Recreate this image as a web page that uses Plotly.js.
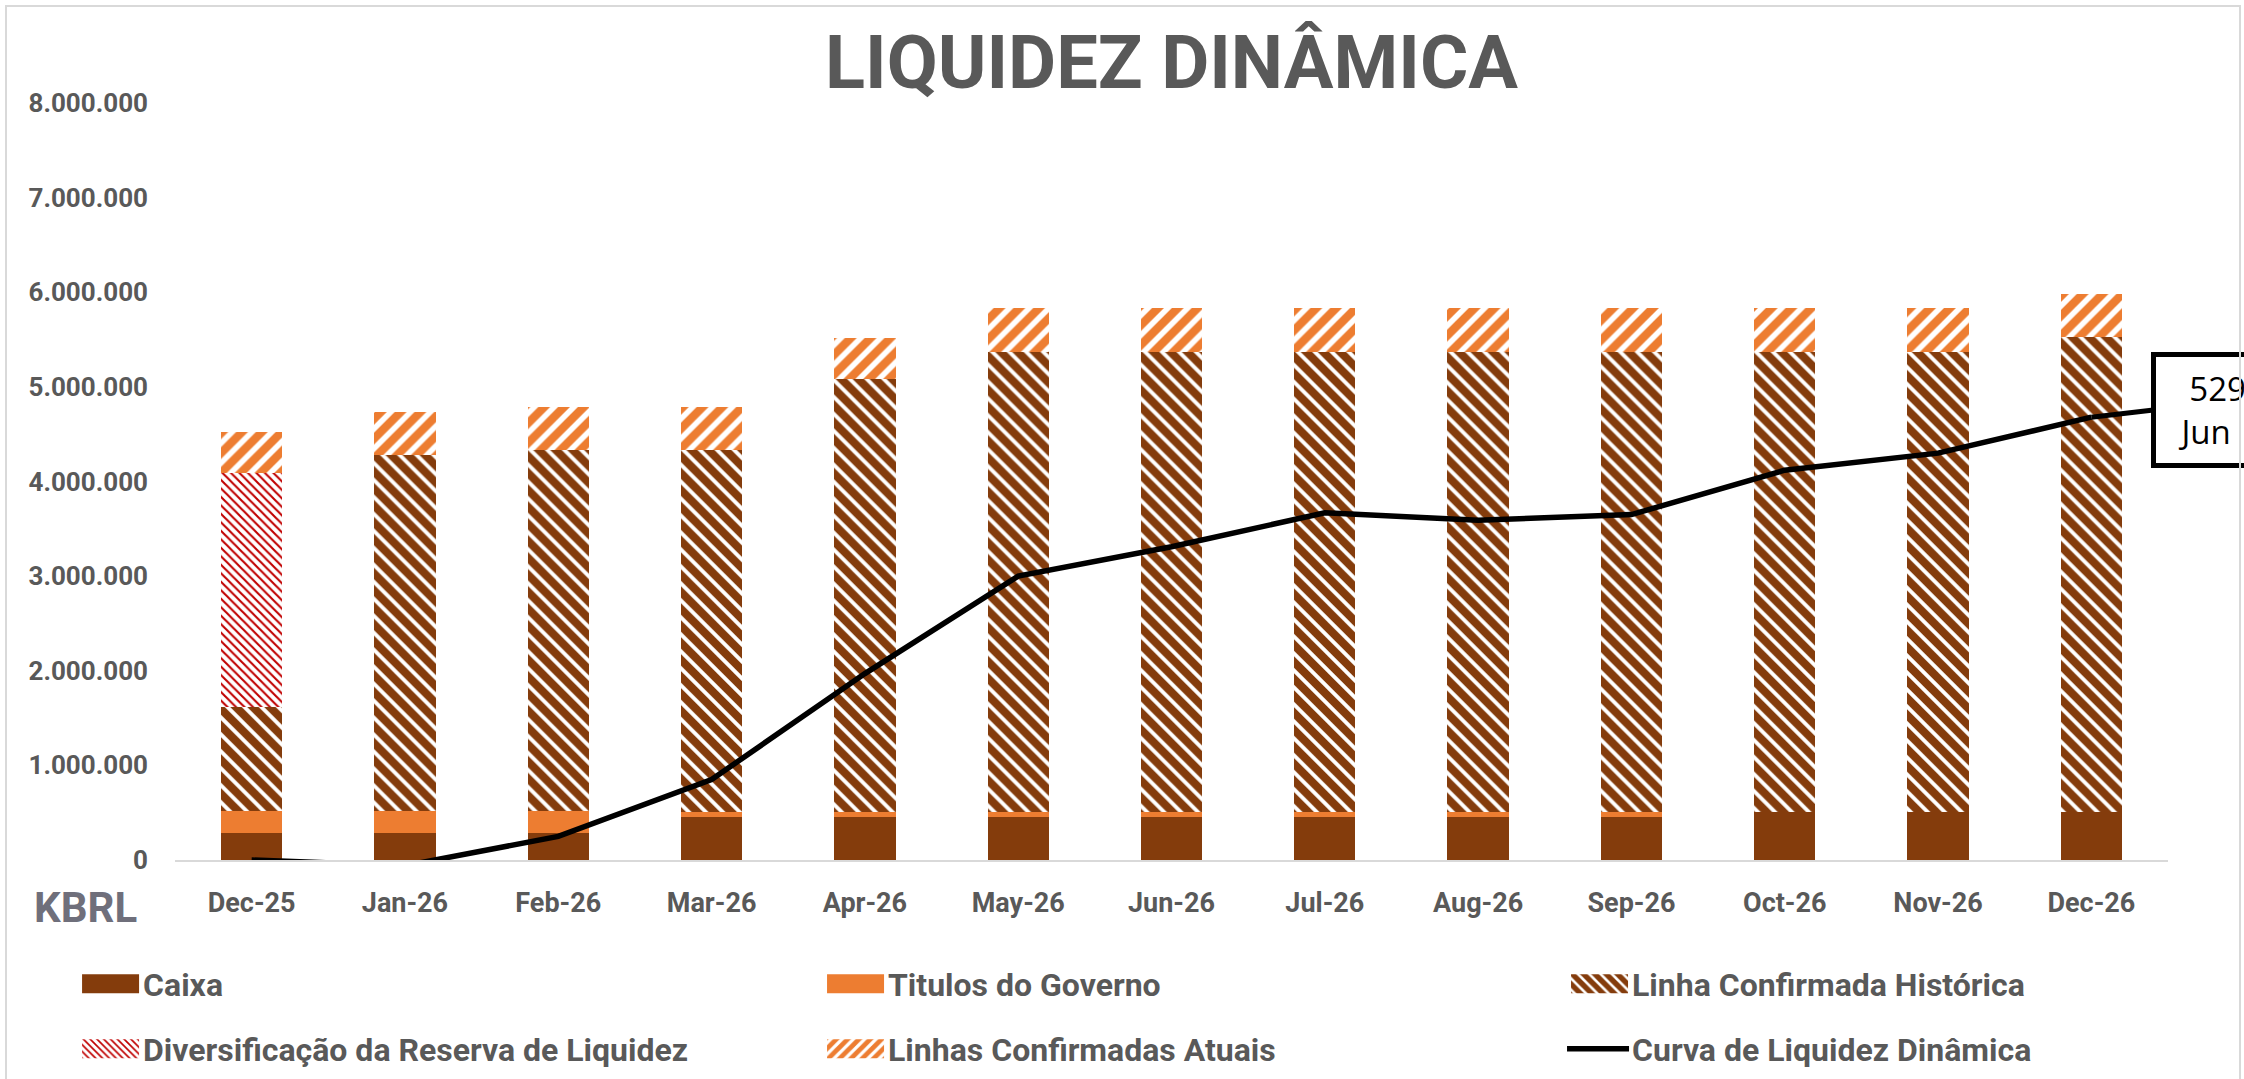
<!DOCTYPE html>
<html>
<head>
<meta charset="utf-8">
<script src="https://cdn.plot.ly/plotly-3.0.1.min.js"></script>
<style>
html,body{margin:0;padding:0;width:2244px;height:1079px;overflow:hidden;background:#fff}
#chart{position:absolute;left:0;top:0;width:2244px;height:1079px}
#frame{position:absolute;left:5px;top:5px;width:2232px;height:1200px;border:2px solid #d9d9d9;pointer-events:none}
</style>
</head>
<body>
<div id="chart"></div>
<div id="frame"></div>
<script>
// ---- data ----
const categories = ['Dec-25','Jan-26','Feb-26','Mar-26','Apr-26','May-26','Jun-26','Jul-26','Aug-26','Sep-26','Oct-26','Nov-26','Dec-26'];
const caixa      = [285000, 285000, 285000, 455000, 455000, 455000, 455000, 455000, 455000, 455000, 510000, 510000, 510000];
const titulos    = [235000, 235000, 235000, 55000, 55000, 55000, 55000, 55000, 55000, 55000, 0, 0, 0];
const linhaHist  = [1100000, 3760000, 3810000, 3820000, 4570000, 4860000, 4860000, 4860000, 4860000, 4860000, 4860000, 4860000, 5020000];
const diversif   = [2470000, 0, 0, 0, 0, 0, 0, 0, 0, 0, 0, 0, 0];
const linhasAtuais = [430000, 450000, 460000, 460000, 440000, 460000, 460000, 460000, 460000, 460000, 460000, 460000, 450000];
const curva      = [0, -60000, 250000, 850000, 1970000, 3000000, 3310000, 3670000, 3590000, 3650000, 4120000, 4300000, 4680000];
const yTicks     = [0, 1000000, 2000000, 3000000, 4000000, 5000000, 6000000, 7000000, 8000000];
const calloutLines = ['529', 'Jun'];
const brandLabel = 'KBRL';
const chartTitle = 'LIQUIDEZ DINÂMICA';

const fontB = 'Roboto, "Open Sans", sans-serif';
const gray = '#595959';

const traces = [
  {type:'bar', name:'Caixa', x:categories, y:caixa, legend:'legend',
   marker:{color:'#843C0C', line:{width:0}}},
  {type:'bar', name:'Titulos do Governo', x:categories, y:titulos, legend:'legend2',
   marker:{color:'#ED7D31', line:{width:0}}},
  {type:'bar', name:'Linha Confirmada Histórica', x:categories, y:linhaHist, legend:'legend3',
   marker:{color:'#843C0C', line:{width:0},
     pattern:{shape:'\\', fgcolor:'#843C0C', bgcolor:'#FFFFFF', size:12, solidity:0.68, fillmode:'replace'}}},
  {type:'bar', name:'Diversificação da Reserva de Liquidez', x:categories, y:diversif, legend:'legend4',
   marker:{color:'#C00000', line:{width:0},
     pattern:{shape:'\\', fgcolor:'#C00000', bgcolor:'#FFFFFF', size:6, solidity:0.35, fillmode:'replace'}}},
  {type:'bar', name:'Linhas Confirmadas Atuais', x:categories, y:linhasAtuais, legend:'legend5',
   marker:{color:'#ED7D31', line:{width:0},
     pattern:{shape:'/', fgcolor:'#ED7D31', bgcolor:'#FFFFFF', size:14, solidity:0.6, fillmode:'replace'}}},
  {type:'scatter', mode:'lines', name:'Curva de Liquidez Dinâmica', x:categories, y:curva, legend:'legend6',
   line:{color:'#000000', width:5.5}}
];

function legendAt(x, y) {
  return {
    orientation:'v', xanchor:'left', x:x, yanchor:'middle', y:y, itemwidth:90,
    bgcolor:'rgba(0,0,0,0)', borderwidth:0,
    font:{family:fontB, size:32, color:gray, weight:'bold'}
  };
}
const colX = [-0.0662, 0.3076, 0.6809];
const rowY = [-0.1638, -0.2497];

const last = categories.length - 1;

const layout = {
  width:2244, height:1079,
  margin:{l:175, r:76, t:103, b:219, autoexpand:false},
  barmode:'stack', bargap:0.6,
  separators:',.',
  paper_bgcolor:'#ffffff', plot_bgcolor:'#ffffff',
  font:{family:fontB, color:gray},
  title:{text:chartTitle, x:0.5, xref:'paper', xanchor:'center', y:0.942, yref:'container', yanchor:'middle',
         font:{family:fontB, size:74, color:gray, weight:'bold'}},
  xaxis:{type:'category', range:[-0.5, categories.length - 0.5], autorange:false,
         showline:true, linecolor:'#d9d9d9', linewidth:2, showgrid:false, zeroline:false,
         ticks:'', ticklabelstandoff:18, fixedrange:true,
         tickfont:{family:fontB, size:27, color:gray, weight:'bold'}},
  yaxis:{range:[0, 8000000], autorange:false, tickmode:'array', tickvals:yTicks, tickformat:',d',
         showgrid:false, zeroline:false, showline:false, ticks:'', ticklabelstandoff:26, fixedrange:true,
         tickfont:{family:fontB, size:26, color:gray, weight:'bold'}},
  legend:legendAt(colX[0], rowY[0]),
  legend2:legendAt(colX[1], rowY[0]),
  legend3:legendAt(colX[2], rowY[0]),
  legend4:legendAt(colX[0], rowY[1]),
  legend5:legendAt(colX[1], rowY[1]),
  legend6:legendAt(colX[2], rowY[1]),
  showlegend:true,
  annotations:[
    {xref:'paper', yref:'paper', x:-0.0717, y:-0.0634, xanchor:'left', yanchor:'middle', showarrow:false,
     text:brandLabel, font:{family:fontB, size:42, color:'#6f6f7b', weight:'bold'}},
    {xref:'x', yref:'y', x:categories[last], y:curva[last], ax:60, ay:-7,
     showarrow:true, arrowhead:0, arrowwidth:5, arrowcolor:'#000000', standoff:0,
     text:'\u2007\u2009' + calloutLines[0] + '<br>\u2009\u2009\u2009' + calloutLines[1],
     align:'left', xanchor:'left', yanchor:'middle', width:220,
     font:{family:'"Open Sans", sans-serif', size:33, color:'#000000'},
     bordercolor:'#000000', borderwidth:5, borderpad:9, bgcolor:'#ffffff'}
  ]
};

function widenLegendKeys(gd) {
  // the reference uses wide legend keys: widen the key shapes Plotly drew
  gd.querySelectorAll('g.legendpoints path').forEach(function(p){
    const d = p.getAttribute('d') || '';
    if (/^M6,6H-6V-6H6Z$/.test(d)) p.setAttribute('d', 'M46,9.5H-11V-9.5H46Z');
  });
  gd.querySelectorAll('g.legendlines path').forEach(function(p){
    p.setAttribute('d', 'M35,0H97');
  });
}

Plotly.newPlot('chart', traces, layout, {displayModeBar:false, staticPlot:true}).then(function(gd){
  widenLegendKeys(gd);
  gd.on('plotly_afterplot', function(){ widenLegendKeys(gd); });
});
</script>
</body>
</html>
